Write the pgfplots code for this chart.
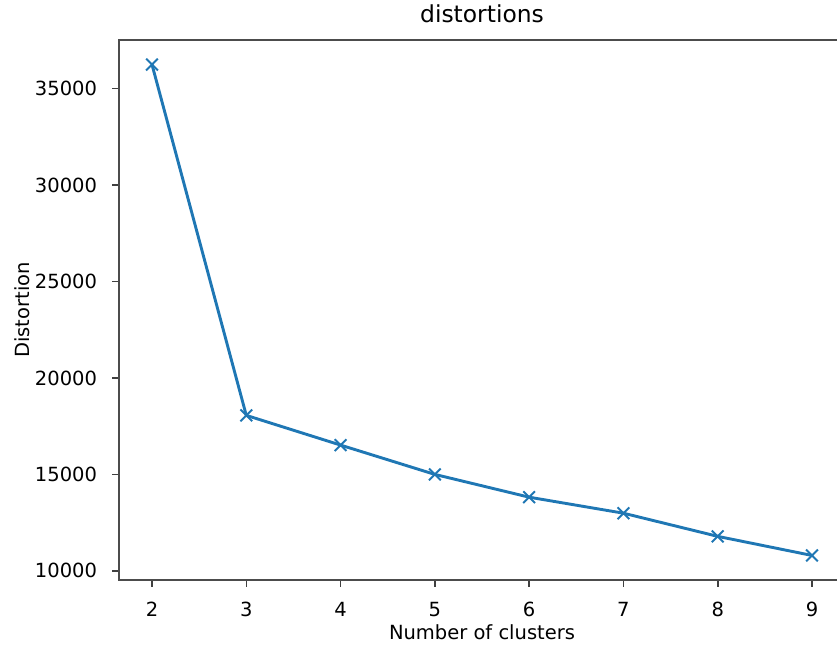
\documentclass[border=0pt]{standalone}
\usepackage{fontspec}
\setmainfont{DejaVu Sans}
\usepackage{pgfplots}
\pgfplotsset{compat=1.18}
\definecolor{tabblue}{HTML}{1F77B4}

\begin{document}
\begin{tikzpicture}
\begin{axis}[
    at={(0,0)}, anchor=south west,
    width=726pt, height=540pt, scale only axis,
    xmin=1.65, xmax=9.35, ymin=9528, ymax=37514,
    xtick={2,...,9}, ytick={10000,15000,...,35000},
    scaled y ticks=false,
    /pgf/number format/fixed, /pgf/number format/1000 sep={},
    /pgf/number format/assume math mode=true,
    tick align=outside, tick pos=left,
    major tick length=6.8pt,
    every tick/.style={black!75, line width=1.56pt},
    axis line style={black!70, line width=1.56pt},
    ticklabel style={font=\fontsize{19.5}{23}\selectfont, inner sep=0pt},
    xticklabel style={anchor=base, yshift=-30pt},
    yticklabel style={anchor=east, xshift=-15pt},
    title={distortions},
    title style={font=\fontsize{23.4}{28}\selectfont, inner sep=0pt,
        at={(axis description cs:0.5,1.0222)}, anchor=base},
    xlabel={Number of clusters}, ylabel={Distortion},
    label style={font=\fontsize{19.5}{23}\selectfont, inner sep=0pt},
    xlabel style={at={(axis description cs:0.5,-0.1111)}, anchor=base},
    ylabel style={at={(axis description cs:-0.1226,0.5)}, anchor=base},
]
\addplot[tabblue, line width=2.9pt, line join=round, mark=x, mark size=8.3pt,
    mark options={line width=1.95pt}]
    coordinates {(2,36240) (3,18060) (4,16520) (5,15000) (6,13820)
        (7,12990) (8,11790) (9,10800)};
\end{axis}
\pgfresetboundingbox
\useasboundingbox (-119pt,-68pt) rectangle (718pt,580pt);
\end{tikzpicture}
\end{document}
